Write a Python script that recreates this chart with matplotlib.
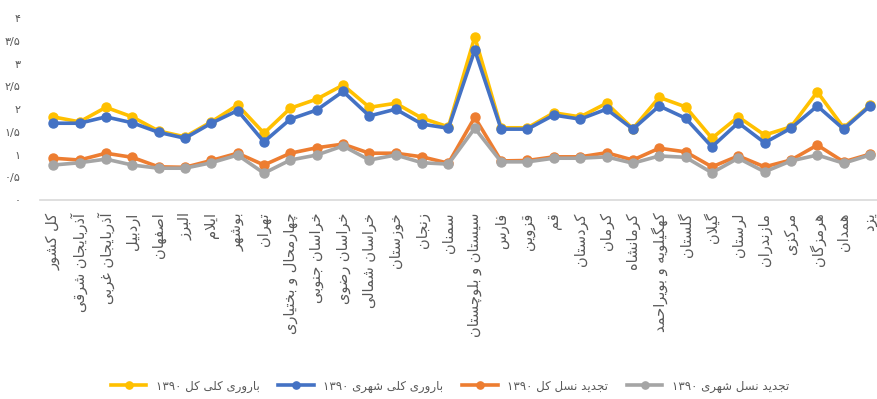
import re
import matplotlib
matplotlib.use("Agg")
import matplotlib.pyplot as plt

# ---------------------------------------------------------------------------
# Minimal Persian shaping: pick contextual presentation forms and put the
# string in visual (right-to-left) order, keeping digit runs left-to-right.
# ---------------------------------------------------------------------------
FORMS = {
    'ا': ('\uFE8D', '\uFE8E', None, None),
    'آ': ('\uFE81', '\uFE82', None, None),
    'ب': ('\uFE8F', '\uFE90', '\uFE91', '\uFE92'),
    'پ': ('\uFB56', '\uFB57', '\uFB58', '\uFB59'),
    'ت': ('\uFE95', '\uFE96', '\uFE97', '\uFE98'),
    'ث': ('\uFE99', '\uFE9A', '\uFE9B', '\uFE9C'),
    'ج': ('\uFE9D', '\uFE9E', '\uFE9F', '\uFEA0'),
    'چ': ('\uFB7A', '\uFB7B', '\uFB7C', '\uFB7D'),
    'ح': ('\uFEA1', '\uFEA2', '\uFEA3', '\uFEA4'),
    'خ': ('\uFEA5', '\uFEA6', '\uFEA7', '\uFEA8'),
    'د': ('\uFEA9', '\uFEAA', None, None),
    'ذ': ('\uFEAB', '\uFEAC', None, None),
    'ر': ('\uFEAD', '\uFEAE', None, None),
    'ز': ('\uFEAF', '\uFEB0', None, None),
    'ژ': ('\uFB8A', '\uFB8B', None, None),
    'س': ('\uFEB1', '\uFEB2', '\uFEB3', '\uFEB4'),
    'ش': ('\uFEB5', '\uFEB6', '\uFEB7', '\uFEB8'),
    'ص': ('\uFEB9', '\uFEBA', '\uFEBB', '\uFEBC'),
    'ض': ('\uFEBD', '\uFEBE', '\uFEBF', '\uFEC0'),
    'ط': ('\uFEC1', '\uFEC2', '\uFEC3', '\uFEC4'),
    'ظ': ('\uFEC5', '\uFEC6', '\uFEC7', '\uFEC8'),
    'ع': ('\uFEC9', '\uFECA', '\uFECB', '\uFECC'),
    'غ': ('\uFECD', '\uFECE', '\uFECF', '\uFED0'),
    'ف': ('\uFED1', '\uFED2', '\uFED3', '\uFED4'),
    'ق': ('\uFED5', '\uFED6', '\uFED7', '\uFED8'),
    'ک': ('\uFB8E', '\uFB8F', '\uFB90', '\uFB91'),
    'گ': ('\uFB92', '\uFB93', '\uFB94', '\uFB95'),
    'ل': ('\uFEDD', '\uFEDE', '\uFEDF', '\uFEE0'),
    'م': ('\uFEE1', '\uFEE2', '\uFEE3', '\uFEE4'),
    'ن': ('\uFEE5', '\uFEE6', '\uFEE7', '\uFEE8'),
    'ه': ('\uFEE9', '\uFEEA', '\uFEEB', '\uFEEC'),
    'و': ('\uFEED', '\uFEEE', None, None),
    'ی': ('\uFBFC', '\uFBFD', '\uFBFE', '\uFBFF'),
}
LAM_ALEF = ('\uFEFB', '\uFEFC')


def _dual(ch):
    return ch in FORMS and FORMS[ch][2] is not None


def shape(text):
    out = []
    i = 0
    n = len(text)
    while i < n:
        ch = text[i]
        prev = text[i - 1] if i > 0 else ''
        joins_prev = ch in FORMS and _dual(prev)
        if ch == 'ل' and i + 1 < n and text[i + 1] == 'ا':
            out.append(LAM_ALEF[1] if joins_prev else LAM_ALEF[0])
            i += 2
            continue
        if ch not in FORMS:
            out.append(ch)
            i += 1
            continue
        nxt = text[i + 1] if i + 1 < n else ''
        joins_next = _dual(ch) and nxt in FORMS
        iso, fin, ini, med = FORMS[ch]
        if joins_prev and joins_next:
            out.append(med)
        elif joins_prev:
            out.append(fin)
        elif joins_next:
            out.append(ini)
        else:
            out.append(iso)
        i += 1
    return ''.join(out)


def fa(text):
    shaped = shape(text)
    tokens = re.findall(r'[0-9\u06F0-\u06F9/]+|[^0-9\u06F0-\u06F9/]+', shaped)
    visual = []
    for tok in reversed(tokens):
        if re.fullmatch(r'[0-9\u06F0-\u06F9/]+', tok):
            visual.append(tok)
        else:
            visual.append(tok[::-1])
    return ''.join(visual)


# ---------------------------------------------------------------------------
# Data: fertility indicators by province, 1390
# ---------------------------------------------------------------------------
provinces = [
    'کل کشور', 'آذربایجان شرقی', 'آذربایجان غربی', 'اردبیل', 'اصفهان',
    'البرز', 'ایلام', 'بوشهر', 'تهران', 'چهارمحال و بختیاری',
    'خراسان جنوبی', 'خراسان رضوی', 'خراسان شمالی', 'خوزستان', 'زنجان',
    'سمنان', 'سیستان و بلوچستان', 'فارس', 'قزوین', 'قم', 'کردستان',
    'کرمان', 'کرمانشاه', 'کهگیلویه و بویراحمد', 'گلستان', 'گیلان',
    'لرستان', 'مازندران', 'مرکزی', 'هرمزگان', 'همدان', 'یزد',
]

tfr_total = [1.83, 1.72, 2.04, 1.83, 1.52, 1.39, 1.72, 2.09, 1.47, 2.02,
             2.22, 2.53, 2.04, 2.13, 1.80, 1.61, 3.59, 1.59, 1.59, 1.92,
             1.83, 2.13, 1.57, 2.26, 2.05, 1.36, 1.83, 1.43, 1.61, 2.38,
             1.59, 2.09]
tfr_urban = [1.69, 1.69, 1.83, 1.70, 1.49, 1.36, 1.69, 1.97, 1.28, 1.78,
             1.98, 2.39, 1.85, 2.00, 1.67, 1.58, 3.30, 1.56, 1.56, 1.87,
             1.78, 2.00, 1.56, 2.07, 1.80, 1.17, 1.70, 1.26, 1.58, 2.07,
             1.56, 2.07]
nrr_total = [0.92, 0.88, 1.03, 0.94, 0.73, 0.72, 0.87, 1.03, 0.77, 1.03,
             1.15, 1.23, 1.03, 1.03, 0.95, 0.81, 1.82, 0.86, 0.87, 0.95,
             0.95, 1.04, 0.88, 1.14, 1.06, 0.73, 0.97, 0.73, 0.88, 1.21,
             0.84, 1.01]
nrr_urban = [0.77, 0.82, 0.90, 0.77, 0.70, 0.70, 0.82, 0.99, 0.59, 0.88,
             0.99, 1.19, 0.88, 0.99, 0.82, 0.79, 1.58, 0.84, 0.84, 0.92,
             0.92, 0.95, 0.81, 0.97, 0.94, 0.60, 0.92, 0.62, 0.86, 0.99,
             0.81, 0.99]

series_labels = ['باروری کلی کل ۱۳۹۰', 'باروری کلی شهری ۱۳۹۰',
                 'تجدید نسل کل ۱۳۹۰', 'تجدید نسل شهری ۱۳۹۰']
series_values = [tfr_total, tfr_urban, nrr_total, nrr_urban]
series_colors = ['#FFC000', '#4472C4', '#ED7D31', '#A5A5A5']

y_ticks = [0, 0.5, 1, 1.5, 2, 2.5, 3, 3.5, 4]
y_tick_labels = ['۰', '۰/۵', '۱', '۱/۵', '۲', '۲/۵', '۳', '۳/۵', '۴']

# ---------------------------------------------------------------------------
plt.rcParams['font.family'] = ['DejaVu Sans']
W, H = 878, 399
fig = plt.figure(figsize=(W / 100, H / 100), dpi=100)
left_px, right_px, top_px, bottom_px = 40, 878, 18.3, 200
ax = fig.add_axes([left_px / W, 1 - bottom_px / H,
                   (right_px - left_px) / W, (bottom_px - top_px) / H])

x = list(range(len(provinces)))
for vals, lab, col in zip(series_values, series_labels, series_colors):
    ax.plot(x, vals, color=col, lw=2.6, marker='o', markersize=6.5,
            label=fa(lab), clip_on=False, solid_joinstyle='round')

ax.set_ylim(0, 4)
ax.set_xlim(-0.5, -0.5 + (right_px - left_px) / 26.35)
ax.set_yticks(y_ticks)
ax.set_yticklabels(y_tick_labels)
ax.set_xticks(x)
ax.set_xticklabels([fa(p) for p in provinces], rotation=90)

for side in ('top', 'right', 'left'):
    ax.spines[side].set_visible(False)
ax.spines['bottom'].set_color('#D9D9D9')
ax.spines['bottom'].set_linewidth(1.2)
ax.tick_params(axis='y', length=0, pad=14, labelsize=8, labelcolor='#595959')
ax.tick_params(axis='x', length=0, pad=9, labelsize=10.5, labelcolor='#595959')

leg = fig.legend(loc='center', bbox_to_anchor=(450 / W, 1 - 386 / H), ncol=4,
                 frameon=False, fontsize=8.5, handlelength=3.0,
                 columnspacing=1.6, handletextpad=0.8, markerscale=0.8)
for t in leg.get_texts():
    t.set_color('#595959')

fig.savefig('out.png', dpi=100)
